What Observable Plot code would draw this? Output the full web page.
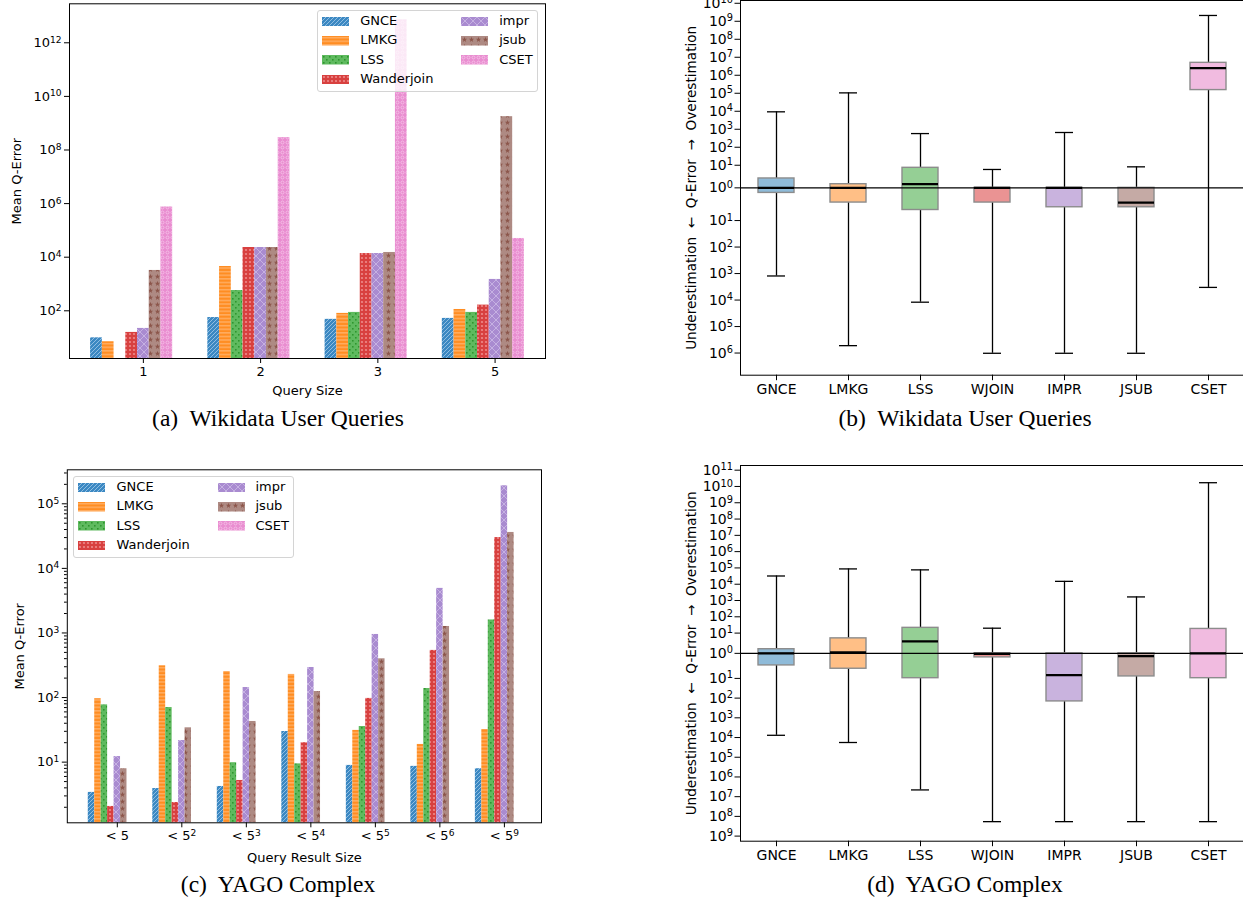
<!DOCTYPE html>
<html><head><meta charset="utf-8">
<script src="https://cdn.jsdelivr.net/npm/d3@7"></script>
<script src="https://cdn.jsdelivr.net/npm/@observablehq/plot@0.6"></script>
<style>
html,body{margin:0;padding:0;background:#fff;overflow:hidden;}
#root{position:relative;width:1243px;height:902px;overflow:hidden;font-family:"DejaVu Sans";color:#000;}
.cap{position:absolute;font-family:"Liberation Serif";font-size:23.5px;line-height:1;white-space:pre;text-align:center;width:500px;}
.legend{position:absolute;border:1px solid #d4d4d4;border-radius:3px;background:rgba(255,255,255,0.8);box-sizing:border-box;}
.legend .sw{position:absolute;width:27px;height:9.5px;display:block;}
.legend .lb{position:absolute;font-family:"DejaVu Sans";font-size:13px;line-height:13px;white-space:nowrap;}
</style></head>
<body><div id="root"></div>
<script>
// ---------- data ----------
const methodsBar = ["GNCE","LMKG","LSS","Wanderjoin","impr","jsub","CSET"];

// (a) Wikidata user queries: mean q-error by query size
const querySizes = ["1","2","3","5"];
const wikiGNCE       = [9.8, 56, 48, 52];
const wikiLMKG       = [7, 4500, 80, 112];
const wikiLSS        = [null, 570, 87, 87];
const wikiWanderjoin = [15.6, 23000, 13700, 163];
const wikiImpr       = [22, 23000, 13700, 1480];
const wikiJsub       = [3200, 23000, 15000, 1.75e9];
const wikiCSET       = [7.5e5, 2.9e8, 7.2e12, 5.0e4];

// (c) YAGO complex: mean q-error by query result size
const resultSizes = ["< 5","< 5²","< 5³","< 5⁴","< 5⁵","< 5⁶","< 5⁹"];
const yagoGNCE       = [3.4, 3.9, 4.2, 29.8, 8.9, 8.6, 7.9];
const yagoLMKG       = [96, 310, 252, 228, 31, 18.8, 32];
const yagoLSS        = [77, 70, 9.8, 9.4, 35.6, 138, 1590];
const yagoWanderjoin = [2.06, 2.37, 5.2, 20, 97, 537, 30000];
const yagoImpr       = [12.2, 21.6, 143, 292, 948, 4900, 1.9e5];
const yagoJsub       = [7.9, 34, 42.6, 124, 398, 1260, 36000];
const yagoCSET       = [null, null, null, null, null, null, null];

// (b)/(d) box plots: ratio estimate / true cardinality
const methodsBox = ["GNCE","LMKG","LSS","WJOIN","IMPR","JSUB","CSET"];
const wikiLow  = [8.1e-4, 1.9e-6, 8.3e-5, 9.8e-7, 9.8e-7, 9.8e-7, 3.0e-4];
const wikiQ1   = [0.70, 0.355, 0.21, 0.355, 0.255, 0.255, 1.5e5];
const wikiMed  = [1, 1, 1.45, 1, 1, 0.355, 2.5e6];
const wikiQ3   = [2.6, 1.45, 7.7, 1, 1, 1, 4.9e6];
const wikiHigh = [9.3e3, 1.05e5, 575, 6.5, 660, 8.5, 2.1e9];

const yagoLow  = [1.3e-4, 5.6e-5, 2.2e-7, 5.4e-9, 5.4e-9, 5.4e-9, 5.4e-9];
const yagoQ1   = [0.33, 0.243, 0.102, 0.69, 6.8e-3, 0.12, 0.102];
const yagoMed  = [1, 1.12, 3.9, 0.95, 0.135, 0.78, 1];
const yagoQ3   = [1.6, 5.5, 21, 1, 1, 1, 18];
const yagoHigh = [3.2e4, 8.7e4, 7.6e4, 20, 1.5e4, 1.66e3, 1.7e10];

const tab10 = ["#1f77b4","#ff7f0e","#2ca02c","#d62728","#9467bd","#8c564b","#e377c2"];

// ---------- patterns ----------
const root = document.getElementById("root");
const defs = `
<svg width="0" height="0" style="position:absolute;left:0;top:0">
<defs>
<pattern id="pat0" patternUnits="userSpaceOnUse" width="4" height="4">
  <rect width="4" height="4" fill="#3b88c2"/>
  <path d="M-1,1 l2,-2 M0,4 l4,-4 M3,5 l2,-2" stroke="#8fbde2" stroke-width="1"/>
</pattern>
<pattern id="pat1" patternUnits="userSpaceOnUse" width="4" height="3.6">
  <rect width="4" height="3.6" fill="#ff8d22"/>
  <rect y="1.2" width="4" height="1" fill="#ffbd80"/>
</pattern>
<pattern id="pat2" patternUnits="userSpaceOnUse" width="6" height="6">
  <rect width="6" height="6" fill="#5fba5f"/>
  <rect x="1" y="1" width="1.6" height="1.6" fill="#2e962e"/>
  <rect x="4" y="4" width="1.6" height="1.6" fill="#2e962e"/>
</pattern>
<pattern id="pat3" patternUnits="userSpaceOnUse" width="4" height="4">
  <rect width="4" height="4" fill="#d8403f"/>
  <circle cx="2" cy="2" r="1.1" fill="#ee8a8a"/>
</pattern>
<pattern id="pat4" patternUnits="userSpaceOnUse" width="8" height="8">
  <rect width="8" height="8" fill="#a98bd0"/>
  <path d="M0,0 L8,8 M8,0 L0,8 M-1,7 l2,2 M7,-1 l2,2 M-1,1 l2,-2 M7,9 l2,-2" stroke="#c6b1e2" stroke-width="1"/>
</pattern>
<pattern id="pat5" patternUnits="userSpaceOnUse" width="7" height="7">
  <rect width="7" height="7" fill="#ae8a83"/>
  <path d="M3.5,0.8 L4.2,2.7 L6.2,2.7 L4.6,3.9 L5.2,5.9 L3.5,4.7 L1.8,5.9 L2.4,3.9 L0.8,2.7 L2.8,2.7 Z" fill="#8c564b"/>
</pattern>
<pattern id="pat6" patternUnits="userSpaceOnUse" width="5" height="5">
  <rect width="5" height="5" fill="#e98dd0"/>
  <circle cx="2.5" cy="2.5" r="1.5" fill="none" stroke="#f6c4e8" stroke-width="0.8"/>
</pattern>
</defs></svg>`;
root.insertAdjacentHTML("beforeend", defs);

// ---------- helpers ----------
const supMap = {"0":"⁰","1":"¹","2":"²","3":"³","4":"⁴","5":"⁵","6":"⁶","7":"⁷","8":"⁸","9":"⁹","-":"⁻"};
const unsupMap = Object.fromEntries(Object.entries(supMap).map(([k, v]) => [v, k]));
const sup = n => String(n).split("").map(c => supMap[c]).join("");
const powLabel = v => "10" + sup(Math.round(Math.log10(v)));
const W = 1243, H = 902;
const svgStyle = "position:absolute;left:0;top:0;max-width:none;overflow:visible;background:none;font-family:'DejaVu Sans';color:#000;";

// render trailing superscript characters as a raised, smaller tspan (like mathtext)
function raiseSuperscripts(svg) {
  svg.querySelectorAll("text").forEach(t => {
    if (t.children.length) return;
    const m = t.textContent.match(/^(.*?)([⁰¹²³⁴⁵⁶⁷⁸⁹⁻]+)$/);
    if (!m) return;
    t.textContent = m[1];
    const ts = document.createElementNS("http://www.w3.org/2000/svg", "tspan");
    ts.setAttribute("dy", "-0.45em");
    ts.setAttribute("font-size", "0.7em");
    ts.textContent = m[2].split("").map(c => unsupMap[c]).join("");
    t.appendChild(ts);
  });
  return svg;
}

function barPanel(o) {
  const keys = [];
  o.groups.forEach((g, gi) => {
    methodsBar.forEach(m => keys.push(g + "|" + m));
    if (gi < o.groups.length - 1) for (let s = 0; s < 3; s++) keys.push("gap" + gi + "_" + s);
  });
  const data = [];
  o.groups.forEach((g, gi) => methodsBar.forEach((m, mi) => {
    const v = o.series[mi][gi];
    if (v != null) data.push({key: g + "|" + m, method: m, value: v});
  }));
  const marks = methodsBar.map((m, mi) =>
    Plot.barY(data.filter(d => d.method === m), {x: "key", y1: o.yDomain[0], y2: "value", fill: `url(#pat${mi})`}));
  if (o.minorTicks) marks.push(Plot.axisY(o.minorTicks, {tickSize: 2.8, text: null, label: null}));
  marks.push(
    Plot.frame({stroke: "#000", strokeWidth: 1}),
    Plot.axisY(o.yTicks, {tickSize: 5, tickPadding: 3, tickFormat: powLabel, fontSize: o.fs, label: null}),
    Plot.axisX(o.groups.map(g => g + "|impr"), {tickSize: 5, tickPadding: 3, tickFormat: k => k.split("|")[0], fontSize: o.fs, label: null}),
    Plot.text([o.xLabel], {text: d => d, frameAnchor: "bottom", dy: o.xLabelDy, textAnchor: "middle", lineAnchor: "middle", fontSize: o.fs}),
    Plot.text(["Mean Q-Error"], {text: d => d, frameAnchor: "left", dx: o.yLabelDx, rotate: -90, textAnchor: "middle", lineAnchor: "middle", fontSize: o.fs})
  );
  return raiseSuperscripts(Plot.plot({
    width: W, height: H,
    marginLeft: o.frame[0], marginRight: W - o.frame[1], marginTop: o.frame[2], marginBottom: H - o.frame[3],
    style: svgStyle,
    x: {type: "band", domain: keys, paddingInner: 0, paddingOuter: o.padOuter, round: false, axis: null},
    y: {type: "log", domain: o.yDomain, axis: null},
    marks
  }));
}

function makeT(kO, maxO, kU, maxU) {
  return r => {
    const d = Math.log10(r), a = Math.abs(d);
    const f = k => a <= 1 ? k * a : k + a - 1;
    return d >= 0 ? f(kO) / maxO : -f(kU) / maxU;
  };
}

function boxPanel(o) {
  const T = o.T;
  const rows = methodsBox.map((m, i) => ({method: m, color: tab10[i],
    lo: T(o.lo[i]), q1: T(o.q1[i]), med: T(o.med[i]), q3: T(o.q3[i]), hi: T(o.hi[i])}));
  const tickVals = [], tickLab = new Map();
  for (let n = 0; n <= o.overMax; n++) { const t = T(Math.pow(10, n)); tickVals.push(t); tickLab.set(t, "10" + sup(n)); }
  for (let n = 1; n <= o.underMax; n++) { const t = T(Math.pow(10, -n)); tickVals.push(t); tickLab.set(t, "10" + sup(n)); }
  return raiseSuperscripts(Plot.plot({
    width: W, height: H,
    marginLeft: o.frame[0], marginRight: W - o.frame[1], marginTop: o.frame[2], marginBottom: H - o.frame[3],
    style: svgStyle,
    x: {type: "band", domain: methodsBox, padding: 0, round: false, axis: null},
    y: {type: "linear", domain: [-1, 1], axis: null},
    marks: [
      Plot.ruleX(rows, {x: "method", y1: "q3", y2: "hi", stroke: "#000", strokeWidth: 1.3}),
      Plot.ruleX(rows, {x: "method", y1: "q1", y2: "lo", stroke: "#000", strokeWidth: 1.3}),
      Plot.tickY(rows, {x: "method", y: "hi", insetLeft: 27, insetRight: 27, stroke: "#000", strokeWidth: 1.3}),
      Plot.tickY(rows, {x: "method", y: "lo", insetLeft: 27, insetRight: 27, stroke: "#000", strokeWidth: 1.3}),
      Plot.barY(rows, {x: "method", y1: "q1", y2: "q3", insetLeft: 18, insetRight: 18, fill: "color", fillOpacity: 0.5, stroke: "#8c8c8c", strokeWidth: 1.4}),
      Plot.tickY(rows, {x: "method", y: "med", insetLeft: 18, insetRight: 18, stroke: "#000", strokeWidth: 2.3}),
      Plot.ruleY([T(1)], {stroke: "#000", strokeWidth: 1.2}),
      Plot.frame({stroke: "#000", strokeWidth: 1}),
      Plot.axisY(tickVals, {tickSize: 5.5, tickPadding: 2, tickFormat: v => tickLab.get(v), fontSize: 14, label: null}),
      Plot.axisX(methodsBox, {tickSize: 5.5, tickPadding: 3, fontSize: 14, label: null}),
      Plot.text(["Underestimation  ←  Q-Error  →  Overestimation"], {text: d => d, frameAnchor: "left", dx: -48.5, rotate: -90, textAnchor: "middle", lineAnchor: "middle", fontSize: 13.6})
    ]
  }));
}

// ---------- panels ----------
root.appendChild(barPanel({
  groups: querySizes,
  series: [wikiGNCE, wikiLMKG, wikiLSS, wikiWanderjoin, wikiImpr, wikiJsub, wikiCSET],
  frame: [69, 545, 3.3, 358], padOuter: 1.8,
  yDomain: [1.66, 2.85e13], yTicks: [1e2, 1e4, 1e6, 1e8, 1e10, 1e12],
  xLabel: "Query Size", xLabelDy: 32, yLabelDx: -53, fs: 13
}));

const minorC = [];
for (let e = 0; e <= 5; e++) for (let m = 2; m <= 9; m++) { const v = m * Math.pow(10, e); if (v > 1.15 && v < 3.36e5) minorC.push(v); }
root.appendChild(barPanel({
  groups: resultSizes,
  series: [yagoGNCE, yagoLMKG, yagoLSS, yagoWanderjoin, yagoImpr, yagoJsub, yagoCSET],
  frame: [66.8, 541, 469.3, 822.3], padOuter: 3.25,
  yDomain: [1.15, 3.36e5], yTicks: [1e1, 1e2, 1e3, 1e4, 1e5], minorTicks: minorC,
  xLabel: "Query Result Size", xLabelDy: 35, yLabelDx: -47, fs: 13
}));

root.appendChild(boxPanel({
  T: makeT(1.256, 10.41, 1.234, 7.07),
  lo: wikiLow, q1: wikiQ1, med: wikiMed, q3: wikiQ3, hi: wikiHigh,
  overMax: 10, underMax: 6, frame: [740, 1244, 0, 374.7]
}));
root.appendChild(boxPanel({
  T: makeT(1.243, 11.53, 1.271, 9.53),
  lo: yagoLow, q1: yagoQ1, med: yagoMed, q3: yagoQ3, hi: yagoHigh,
  overMax: 11, underMax: 9, frame: [740, 1244, 465, 840.7]
}));

// ---------- legends ----------
function legend(left, top) {
  const div = document.createElement("div");
  div.className = "legend";
  div.style.cssText = `left:${left}px;top:${top}px;width:221px;height:82px;`;
  const rowsY = [10.3, 29.8, 49.2, 68.7];
  methodsBar.forEach((m, i) => {
    const col = i < 4 ? 0 : 1, row = i < 4 ? i : i - 4;
    const cy = rowsY[row];
    const swX = col === 0 ? 4 : 143.5, lbX = col === 0 ? 42.5 : 181.5;
    div.insertAdjacentHTML("beforeend",
      `<svg class="sw" style="left:${swX}px;top:${cy - 4.75}px" width="27" height="9.5"><rect width="27" height="9.5" fill="url(#pat${i})"/></svg>` +
      `<div class="lb" style="left:${lbX}px;top:${cy - 7.5}px">${m}</div>`);
  });
  root.appendChild(div);
}
legend(316.7, 10);
legend(73, 476);

// ---------- captions ----------
function caption(text, cx, top) {
  const d = document.createElement("div");
  d.className = "cap";
  d.style.left = (cx - 250) + "px";
  d.style.top = top + "px";
  d.textContent = text;
  root.appendChild(d);
}
caption("(a)  Wikidata User Queries", 278, 407);
caption("(b)  Wikidata User Queries", 965, 407);
caption("(c)  YAGO Complex", 278, 873);
caption("(d)  YAGO Complex", 965, 873);
</script>
</body></html>
